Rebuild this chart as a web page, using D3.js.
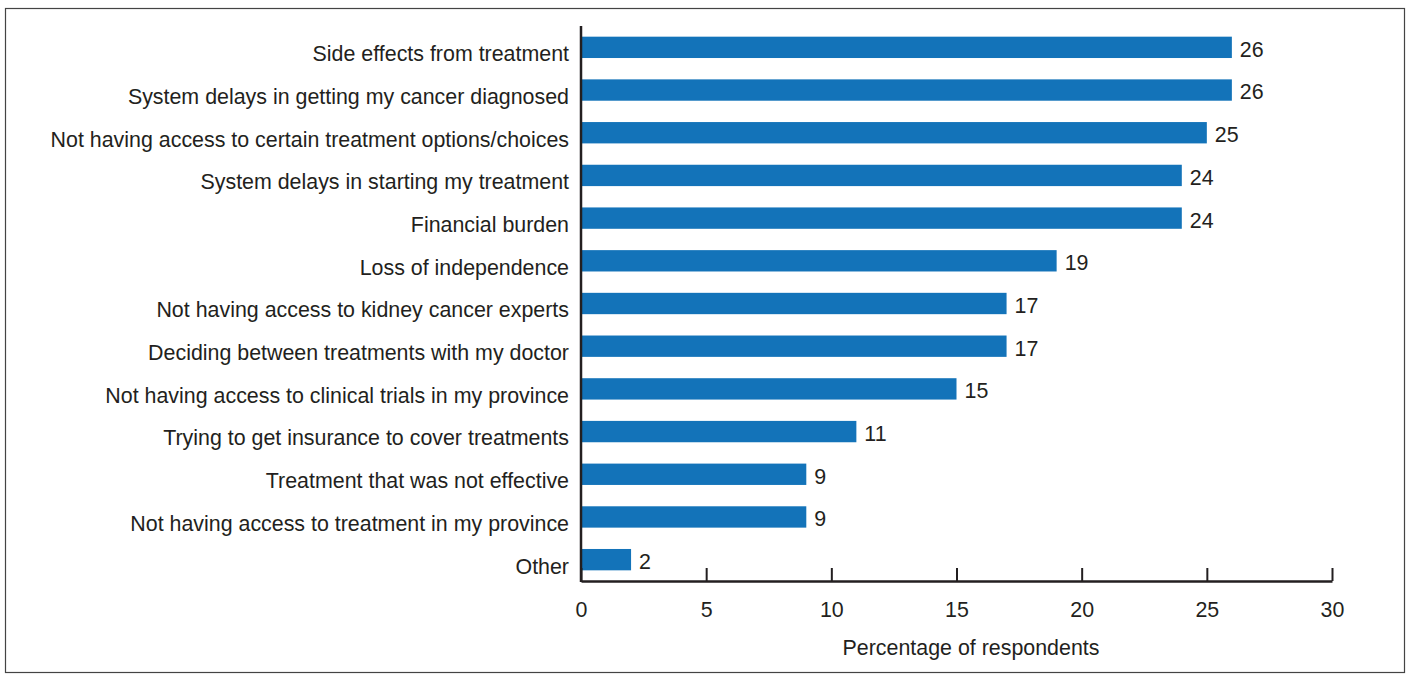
<!DOCTYPE html>
<html>
<head>
<meta charset="utf-8">
<script src="https://cdn.jsdelivr.net/npm/d3@7"></script>
<style>
  body { margin: 0; background: #fff; }
  text { font-family: "Liberation Sans", Arial, Helvetica, sans-serif; fill: #231f20; }
</style>
</head>
<body>
<div id="chart"></div>
<script>
// categories top to bottom, values in percent
const categories = [
    "Side effects from treatment",
    "System delays in getting my cancer diagnosed",
    "Not having access to certain treatment options/choices",
    "System delays in starting my treatment",
    "Financial burden",
    "Loss of independence",
    "Not having access to kidney cancer experts",
    "Deciding between treatments with my doctor",
    "Not having access to clinical trials in my province",
    "Trying to get insurance to cover treatments",
    "Treatment that was not effective",
    "Not having access to treatment in my province",
    "Other"
];
const values = [26, 26, 25, 24, 24, 19, 17, 17, 15, 11, 9, 9, 2];
const xTicks = [0, 5, 10, 15, 20, 25, 30];
const xTitle = "Percentage of respondents";

const width = 1411, height = 677;
const margin = { top: 26, right: 79, bottom: 96, left: 581 };
const fontSize = "21.4px";

const svg = d3.select("#chart")
    .append("svg")
    .attr("width", width)
    .attr("height", height);

// outer frame
svg.append("rect")
    .attr("x", 5.5).attr("y", 8.5)
    .attr("width", 1399).attr("height", 664)
    .attr("fill", "none")
    .attr("stroke", "#444")
    .attr("stroke-width", 1.2);

const x = d3.scaleLinear().domain([0, 30]).range([margin.left, width - margin.right]);
const y = d3.scaleBand()
    .domain(categories)
    .range([margin.top, height - margin.bottom])
    .paddingInner(0.5)
    .paddingOuter(0.25);

const data = categories.map((c, i) => ({ cat: c, val: values[i] }));

// bars
svg.append("g")
    .selectAll("rect")
    .data(data)
    .join("rect")
    .attr("x", x(0))
    .attr("y", d => y(d.cat))
    .attr("width", d => x(d.val) - x(0))
    .attr("height", y.bandwidth())
    .attr("fill", "#1373b9");

// value labels (sit a little below bar centre, as in the original)
svg.append("g")
    .selectAll("text")
    .data(data)
    .join("text")
    .attr("x", d => x(d.val) + 8)
    .attr("y", d => y(d.cat) + y.bandwidth() / 2)
    .attr("dy", "0.44em")
    .style("font-size", fontSize)
    .text(d => d.val);

// x axis, ticks pointing up
const xAxis = svg.append("g")
    .attr("transform", `translate(0,${height - margin.bottom})`)
    .call(d3.axisBottom(x).tickValues(xTicks).tickSize(-13).tickSizeOuter(0).tickPadding(21));
xAxis.select(".domain").attr("stroke", "#231f20").attr("stroke-width", 2.5);
xAxis.selectAll(".tick line").attr("stroke", "#231f20").attr("stroke-width", 2);
xAxis.selectAll(".tick text").style("font-size", fontSize).attr("fill", "#231f20");

// y axis
const yAxis = svg.append("g")
    .attr("transform", `translate(${margin.left},0)`)
    .call(d3.axisLeft(y).tickSize(0).tickPadding(12));
yAxis.select(".domain").attr("stroke", "#231f20").attr("stroke-width", 2.5)
    .attr("d", `M0,${margin.top}V${height - margin.bottom + 1}`);
yAxis.selectAll(".tick text")
    .style("font-size", fontSize)
    .attr("fill", "#231f20")
    .attr("dy", "0.65em");

// axis title
svg.append("text")
    .attr("x", 971)
    .attr("y", 647)
    .attr("dy", "0.36em")
    .attr("text-anchor", "middle")
    .style("font-size", fontSize)
    .text(xTitle);
</script>
</body>
</html>
